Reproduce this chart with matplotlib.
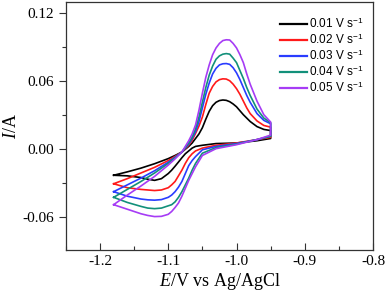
import matplotlib
matplotlib.use("Agg")
import matplotlib.pyplot as plt
import numpy as np
from matplotlib.ticker import MultipleLocator

plt.rcParams["mathtext.fontset"] = "custom"
plt.rcParams["mathtext.rm"] = "Liberation Serif"
plt.rcParams["mathtext.it"] = "Liberation Serif:italic"
plt.rcParams["mathtext.sf"] = "Liberation Sans"

# scan rates and colours
labels = ["0.01 V s$^{\\mathsf{-1}}$", "0.02 V s$^{\\mathsf{-1}}$", "0.03 V s$^{\\mathsf{-1}}$",
          "0.04 V s$^{\\mathsf{-1}}$", "0.05 V s$^{\\mathsf{-1}}$"]
colors = ["black", "#ff1a1a", "#2a3cff", "#12907a", "#a63cf5"]

# anodic sweep (-1.18 -> -0.95 V)
E_an = [-1.18, -1.16, -1.14, -1.12, -1.10, -1.09, -1.08, -1.07, -1.065, -1.06,
        -1.055, -1.05, -1.045, -1.04, -1.035, -1.03, -1.025, -1.02, -1.015, -1.01,
        -1.005, -1.00, -0.995, -0.99, -0.985, -0.98, -0.97, -0.96, -0.95]
I_an_01 = [-0.0235, -0.0205, -0.0172, -0.0133, -0.0088, -0.006, -0.003, 0.002, 0.005, 0.009,
           0.013, 0.0185, 0.026, 0.033, 0.038, 0.041, 0.0425, 0.043, 0.0427, 0.0415,
           0.0395, 0.037, 0.0335, 0.030, 0.027, 0.024, 0.0195, 0.017, 0.016]
I_an_02 = [-0.031, -0.0265, -0.0215, -0.0165, -0.0105, -0.0068, -0.003, 0.003, 0.0075, 0.0135,
           0.020, 0.028, 0.039, 0.049, 0.055, 0.059, 0.061, 0.0617, 0.0615, 0.060,
           0.057, 0.053, 0.048, 0.042, 0.036, 0.031, 0.0245, 0.0205, 0.019]
I_an_03 = [-0.038, -0.032, -0.026, -0.0195, -0.012, -0.0075, -0.003, 0.004, 0.009, 0.015,
           0.024, 0.036, 0.048, 0.058, 0.066, 0.071, 0.074, 0.075, 0.0752, 0.0745,
           0.0715, 0.067, 0.061, 0.054, 0.047, 0.041, 0.031, 0.025, 0.022]
I_an_04 = [-0.043, -0.036, -0.029, -0.0215, -0.013, -0.008, -0.003, 0.005, 0.010, 0.0175,
           0.028, 0.041, 0.054, 0.065, 0.073, 0.079, 0.082, 0.0835, 0.084, 0.0835,
           0.080, 0.076, 0.069, 0.062, 0.054, 0.047, 0.035, 0.027, 0.023]
I_an_05 = [-0.0495, -0.041, -0.033, -0.0245, -0.0145, -0.009, -0.003, 0.007, 0.013, 0.021,
           0.034, 0.049, 0.063, 0.074, 0.083, 0.089, 0.093, 0.0955, 0.0962, 0.096,
           0.093, 0.089, 0.083, 0.076, 0.066, 0.057, 0.042, 0.030, 0.0235]

# cathodic sweep (-0.95 -> -1.18 V)
E_ca = [-0.95, -0.97, -1.00, -1.03, -1.05, -1.06, -1.065, -1.07, -1.075, -1.08,
        -1.085, -1.09, -1.095, -1.10, -1.11, -1.12, -1.13, -1.14, -1.16, -1.18]
I_ca_01 = [0.009, 0.007, 0.005, 0.0045, 0.003, 0.002, 0.0005, -0.002, -0.0045, -0.008,
           -0.0118, -0.0155, -0.019, -0.022, -0.0265, -0.028, -0.027, -0.0255, -0.024, -0.0235]
I_ca_02 = [0.010, 0.008, 0.005, 0.003, 0.0005, -0.002, -0.0045, -0.008, -0.013, -0.019,
           -0.024, -0.029, -0.032, -0.0345, -0.0365, -0.037, -0.0365, -0.036, -0.0345, -0.031]
I_ca_03 = [0.011, 0.008, 0.0045, 0.002, -0.001, -0.007, -0.0105, -0.015, -0.022, -0.029,
           -0.034, -0.038, -0.041, -0.043, -0.045, -0.0455, -0.0452, -0.0445, -0.042, -0.038]
I_ca_04 = [0.011, 0.008, 0.004, 0.001, -0.004, -0.013, -0.019, -0.026, -0.032, -0.038,
           -0.043, -0.047, -0.0495, -0.0505, -0.0525, -0.053, -0.0525, -0.051, -0.0475, -0.043]
I_ca_05 = [0.012, 0.008, 0.0035, 0.0, -0.006, -0.016, -0.022, -0.028, -0.035, -0.042,
           -0.048, -0.052, -0.0555, -0.058, -0.0598, -0.060, -0.059, -0.0575, -0.0535, -0.0495]

anodic = [I_an_01, I_an_02, I_an_03, I_an_04, I_an_05]
cathodic = [I_ca_01, I_ca_02, I_ca_03, I_ca_04, I_ca_05]

fig = plt.figure(figsize=(3.85, 2.99), dpi=100)
ax = fig.add_axes([0.171, 0.164, 0.798, 0.829])

for ia, ic, c, lab in zip(anodic, cathodic, colors, labels):
    E = np.concatenate([E_an, E_ca])
    I = np.concatenate([ia, ic])
    ax.plot(E, I, color=c, lw=1.2, label=lab)

ax.set_xlim(-1.25, -0.8)
ax.set_ylim(-0.0895, 0.1295)
ax.xaxis.set_major_locator(MultipleLocator(0.1))
ax.xaxis.set_minor_locator(MultipleLocator(0.05))
ax.yaxis.set_major_locator(MultipleLocator(0.06))
ax.yaxis.set_minor_locator(MultipleLocator(0.03))
ax.xaxis.set_major_formatter(plt.FuncFormatter(lambda v, p: "%.1f" % v))
ax.yaxis.set_major_formatter(plt.FuncFormatter(lambda v, p: "%.2f" % v))

ax.tick_params(axis="x", which="both", direction="in", top=False)
ax.tick_params(axis="y", which="both", direction="out", right=False)
ax.tick_params(which="major", length=5, width=0.8, color="#333333")
ax.tick_params(which="minor", length=3, width=0.8, color="#333333")
for lbl in ax.get_xticklabels() + ax.get_yticklabels():
    lbl.set_fontfamily("Liberation Serif")
    lbl.set_fontsize(11)
for sp in ax.spines.values():
    sp.set_color("#333333")
    sp.set_linewidth(0.9)

ax.set_xlabel("$\\mathit{E}$/V vs Ag/AgCl", fontfamily="Liberation Serif", fontsize=13, labelpad=2)
ax.set_ylabel("$\\mathit{I}$/A", fontfamily="Liberation Serif", fontsize=13, labelpad=2)

leg = ax.legend(loc="upper right", frameon=False, prop={"family": "Liberation Sans", "size": 8.5},
                handlelength=2.3, handletextpad=0.2, labelspacing=0.12,
                bbox_to_anchor=(0.985, 0.96), borderaxespad=0)
for h in leg.get_lines():
    h.set_linewidth(1.6)

fig.savefig("out.png", dpi=100)
